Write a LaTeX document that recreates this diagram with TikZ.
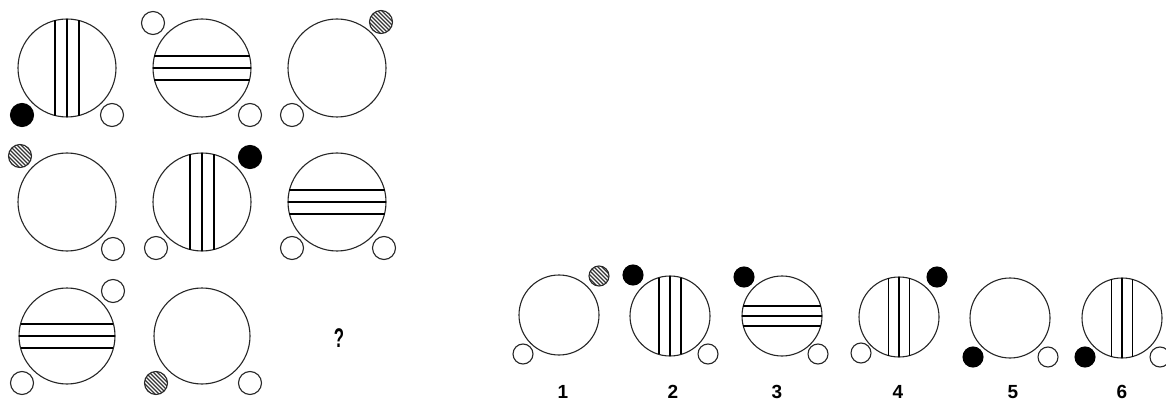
\documentclass[tikz,border=0pt]{standalone}
\usepackage{fontspec}
\setmainfont{Liberation Sans}
\usetikzlibrary{calc}
\begin{document}
\begin{tikzpicture}[x=1pt,y=-1pt,line width=1.1pt,
  big/.style={draw=black!85,fill=white},
  wdot/.style={draw=black!85,fill=white},
  bdot/.style={draw=black,fill=black},
  lbl/.style={font=\bfseries\fontsize{19}{19}\selectfont,inner sep=0pt}]
\useasboundingbox (0,0) rectangle (1166,403);
% helpers
\newcommand{\hatchdot}[3]{%
  \begin{scope}
    \clip (#1,#2) circle (#3);
    \foreach \k in {-24,-20,...,24}{
      \draw[line width=1.2pt,black!80] ($(#1,#2)+(\k,0)+(-14,-14)$) -- ($(#1,#2)+(\k,0)+(14,14)$);
    }
  \end{scope}
  \draw[black!85] (#1,#2) circle (#3);}
\newcommand{\vlines}[4]{% cx cy r d
  \draw (#1-#4,{#2-sqrt(#3*#3-#4*#4)}) -- (#1-#4,{#2+sqrt(#3*#3-#4*#4)});
  \draw (#1,#2-#3) -- (#1,#2+#3);
  \draw (#1+#4,{#2-sqrt(#3*#3-#4*#4)}) -- (#1+#4,{#2+sqrt(#3*#3-#4*#4)});}
\newcommand{\hlines}[4]{%
  \draw ({#1-sqrt(#3*#3-#4*#4)},#2-#4) -- ({#1+sqrt(#3*#3-#4*#4)},#2-#4);
  \draw (#1-#3,#2) -- (#1+#3,#2);
  \draw ({#1-sqrt(#3*#3-#4*#4)},#2+#4) -- ({#1+sqrt(#3*#3-#4*#4)},#2+#4);}
% ---------- grid row 1
\draw[big] (67,68) circle (49); \vlines{67}{68}{49}{12}
\draw[bdot] (22,115) circle (11.5);
\draw[wdot] (112,115) circle (11.5);
\draw[big] (202,68) circle (49); \hlines{202}{68}{49}{12}
\draw[wdot] (153,23) circle (11.5);
\draw[wdot] (250,115) circle (11.5);
\draw[big] (337,68) circle (49);
\hatchdot{381}{22}{11.5}
\draw[wdot] (292,115) circle (11.5);
% ---------- grid row 2
\draw[big] (67,202) circle (49);
\hatchdot{20}{156}{11.5}
\draw[wdot] (113,249) circle (11.5);
\draw[big] (202,202) circle (49); \vlines{202}{202}{49}{12}
\draw[bdot] (250,157) circle (11.5);
\draw[wdot] (156,248) circle (11.5);
\draw[big] (337,202) circle (49); \hlines{337}{202}{49}{12}
\draw[wdot] (292,248) circle (11.5);
\draw[wdot] (384,248) circle (11.5);
% ---------- grid row 3
\draw[big] (67,336) circle (48); \hlines{67}{336}{48}{12}
\draw[wdot] (113,291) circle (11.5);
\draw[wdot] (22,383) circle (11.5);
\draw[big] (202,336) circle (48);
\hatchdot{156}{383}{11.5}
\draw[wdot] (250,383) circle (11.5);
\node[font=\bfseries\fontsize{27}{27}\selectfont,inner sep=0pt,xscale=0.62] (q) at (339,338) {?};
% ---------- answers
\draw[big] (559,315) circle (40);
\hatchdot{599}{276}{10}
\draw[wdot] (523,354) circle (10);
\node[lbl] (l1) at (563,392) {1};
\draw[big] (670,316) circle (40); \vlines{670}{316}{40}{11}
\draw[bdot] (633,275) circle (10);
\draw[wdot] (708,354) circle (10);
\node[lbl] (l2) at (673,392) {2};
\draw[big] (782,316) circle (40); \hlines{782}{316}{40}{10}
\draw[bdot] (744,277) circle (10);
\draw[wdot] (818,354) circle (10);
\node[lbl] (l3) at (777,392) {3};
\draw[big] (899,317) circle (40); \vlines{899}{317}{40}{10.5}
\draw[bdot] (937,277) circle (10);
\draw[wdot] (861,353) circle (10);
\node[lbl] (l4) at (898,392) {4};
\draw[big] (1010,318) circle (40);
\draw[bdot] (973,357) circle (10);
\draw[wdot] (1048,357) circle (10);
\node[lbl] (l5) at (1013,392) {5};
\draw[big] (1122,318) circle (40); \vlines{1122}{318}{40}{10.5}
\draw[bdot] (1085,357) circle (10);
\draw[wdot] (1160,357) circle (10);
\node[lbl] (l6) at (1122,392) {6};
\end{tikzpicture}
\end{document}
